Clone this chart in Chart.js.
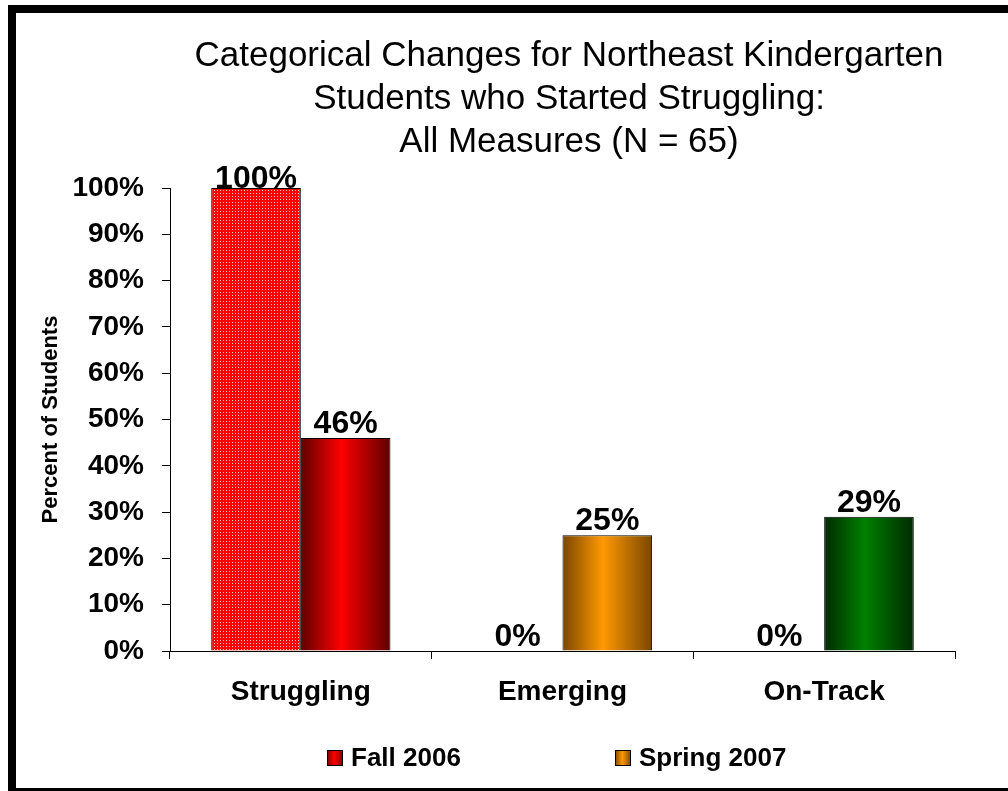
<!DOCTYPE html>
<html>
<head>
<meta charset="utf-8">
<script src="https://cdn.jsdelivr.net/npm/chart.js@4/dist/chart.umd.min.js"></script>
<style>
  html, body { margin: 0; padding: 0; background: #fff; overflow: hidden; }
  #wrap { position: relative; width: 1008px; height: 791px; overflow: hidden; }
  #frame { position: absolute; left: 8px; top: 5px; width: 1100px; height: 775px; border: 8px solid #000; background: #fff; }
  #chart { position: absolute; left: 0; top: 0; }
</style>
</head>
<body>
<div id="wrap">
  <div id="frame"></div>
  <canvas id="chart" width="1008" height="791"></canvas>
</div>
<script>
const titleLines = ['Categorical Changes for Northeast Kindergarten', 'Students who Started Struggling:', 'All Measures (N = 65)'];
const categories = ['Struggling', 'Emerging', 'On-Track'];
const seriesNames = ['Fall 2006', 'Spring 2007'];
const fall2006 = [100, 0, 0];
const spring2007 = [46, 25, 29];
const yAxisLabel = 'Percent of Students';

const FONT = '"Liberation Sans", Arial, sans-serif';
Chart.defaults.font.family = FONT;
Chart.defaults.color = '#000';

// colours: [edge, centre] for the shaded spring bars
const springShades = [['#5e0000', '#ff0000'], ['#7a4600', '#ff9900'], ['#002a00', '#008000']];
const catPct = 0.685;

// dotted red fill for the fall bars
function makeDots() {
  const c = document.createElement('canvas');
  c.width = 3; c.height = 3;
  const g = c.getContext('2d');
  g.fillStyle = '#ff0000';
  g.fillRect(0, 0, 3, 3);
  g.fillStyle = '#ffc8c8';
  g.fillRect(1, 1, 1, 1);
  return g.createPattern ? document.getElementById('chart').getContext('2d').createPattern(c, 'repeat') : '#ff0000';
}
const dots = makeDots();

function shade(ctx, x0, x1, edge, mid) {
  const g = ctx.createLinearGradient(x0, 0, x1, 0);
  g.addColorStop(0, edge);
  g.addColorStop(0.45, mid);
  g.addColorStop(1, edge);
  return g;
}

function springFill(context) {
  const chart = context.chart;
  const cols = springShades[context.dataIndex % springShades.length];
  const xs = chart.scales && chart.scales.x;
  if (!chart.chartArea || !xs) return cols[1];
  const centre = xs.getPixelForValue(context.dataIndex);
  const bw = xs.width / categories.length * catPct / 2;
  return shade(chart.ctx, centre, centre + bw, cols[0], cols[1]);
}

const titlePlugin = {
  id: 'bigTitle',
  afterDraw(chart) {
    const ctx = chart.ctx;
    ctx.save();
    ctx.fillStyle = '#000';
    ctx.font = '35px ' + FONT;
    ctx.textAlign = 'center';
    ctx.textBaseline = 'alphabetic';
    titleLines.forEach((t, i) => ctx.fillText(t, 569, 66 + i * 43));
    ctx.restore();
  }
};

const valueLabels = {
  id: 'valueLabels',
  afterDatasetsDraw(chart) {
    const ctx = chart.ctx;
    ctx.save();
    ctx.fillStyle = '#000';
    ctx.font = 'bold 32px ' + FONT;
    ctx.textAlign = 'center';
    ctx.textBaseline = 'alphabetic';
    chart.data.datasets.forEach((ds, di) => {
      chart.getDatasetMeta(di).data.forEach((bar, i) => {
        const y = Math.max(bar.y - 5, chart.chartArea.top);
        ctx.fillText(ds.data[i] + '%', bar.x, y);
      });
    });
    ctx.restore();
  }
};

const legendPlugin = {
  id: 'bottomLegend',
  afterDraw(chart) {
    const ctx = chart.ctx;
    const items = [
      { x: 327, edge: '#7a0000', mid: '#ff0000' },
      { x: 615, edge: '#7a4600', mid: '#ff9900' }
    ];
    ctx.save();
    ctx.font = 'bold 26px ' + FONT;
    ctx.textBaseline = 'alphabetic';
    items.forEach((it, i) => {
      ctx.fillStyle = shade(ctx, it.x, it.x + 16, it.edge, it.mid);
      ctx.fillRect(it.x, 750, 16, 16);
      ctx.strokeStyle = '#000';
      ctx.lineWidth = 1;
      ctx.strokeRect(it.x + 0.5, 750.5, 15, 15);
      ctx.fillStyle = '#000';
      ctx.fillText(seriesNames[i], it.x + 24, 766);
    });
    ctx.restore();
  }
};

const ctx = document.getElementById('chart').getContext('2d');

const myChart = new Chart(ctx, {
  type: 'bar',
  data: {
    labels: categories,
    datasets: [{
      label: seriesNames[0],
      data: fall2006,
      backgroundColor: dots,
      borderColor: '#000',
      borderWidth: 1
    },
    {
      label: seriesNames[1],
      data: spring2007,
      backgroundColor: springFill,
      borderColor: '#000',
      borderWidth: 1
    }]
  },
  plugins: [titlePlugin, valueLabels, legendPlugin],
  options: {
    responsive: false,
    animation: false,
    devicePixelRatio: 1,
    categoryPercentage: catPct,
    barPercentage: 1,
    layout: { padding: { left: 20, right: 53, top: 188, bottom: 80 } },
    plugins: {
      legend: { display: false },
      title: { display: false },
      tooltip: { enabled: false }
    },
    scales: {
      x: {
        grid: { drawOnChartArea: false, offset: true, tickLength: 8, color: '#000' },
        border: { color: '#000', width: 1 },
        ticks: { font: { size: 28, weight: 'bold' }, padding: 16, color: '#000' },
        afterFit(scale) { scale.height = 60; }
      },
      y: {
        min: 0,
        max: 100,
        ticks: {
          stepSize: 10,
          font: { size: 28, weight: 'bold' },
          padding: 18,
          color: '#000',
          callback: v => v + '%'
        },
        grid: { drawOnChartArea: false, tickLength: 8, color: '#000' },
        border: { color: '#000', width: 1 },
        title: {
          display: true,
          text: yAxisLabel,
          font: { size: 22, weight: 'bold' },
          color: '#000',
          padding: { top: 18, bottom: 0 }
        },
        afterFit(scale) { scale.width = 150; }
      }
    }
  }
});
</script>
</body>
</html>
